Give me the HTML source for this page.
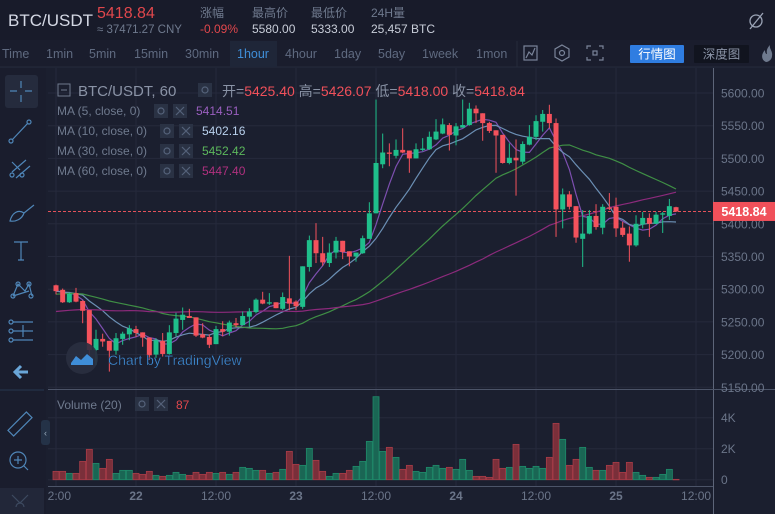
<!DOCTYPE html>
<html><head><meta charset="utf-8">
<style>
html,body{margin:0;padding:0;background:#1b1f2f;width:775px;height:514px;overflow:hidden}
svg{display:block;font-family:"Liberation Sans","Noto Sans CJK SC",sans-serif}
</style></head>
<body>
<svg id="chart" width="775" height="514" viewBox="0 0 775 514" xmlns="http://www.w3.org/2000/svg">
<defs>
<clipPath id="pclip"><rect x="48" y="68" width="665" height="321"/></clipPath>
<clipPath id="vclip"><rect x="48" y="390" width="665" height="96"/></clipPath>
<clipPath id="tclip"><rect x="48" y="486" width="727" height="28"/></clipPath>
</defs>
<rect x="0" y="0" width="775" height="514" fill="#1b1f2f"/>
<!-- header -->
<g>
<rect x="0" y="0" width="775" height="40" fill="#181b2a"/>
<text x="8" y="26" font-size="17" fill="#d4d8e4">BTC/USDT</text>
<text x="97" y="18" font-size="16" fill="#e0474c">5418.84</text>
<text x="97" y="33" font-size="11.5" fill="#6f7a8e">≈ 37471.27 CNY</text>
<text x="200" y="17" font-size="12" fill="#6f7a8e">涨幅</text>
<text x="200" y="33" font-size="12" fill="#e0474c">-0.09%</text>
<text x="252" y="17" font-size="12" fill="#6f7a8e">最高价</text>
<text x="252" y="33" font-size="12" fill="#c8cdd8">5580.00</text>
<text x="311" y="17" font-size="12" fill="#6f7a8e">最低价</text>
<text x="311" y="33" font-size="12" fill="#c8cdd8">5333.00</text>
<text x="371" y="17" font-size="12" fill="#6f7a8e">24H量</text>
<text x="371" y="33" font-size="12" fill="#c8cdd8">25,457 BTC</text>
<g stroke="#9aa3b5" fill="none" stroke-width="1.3">
<circle cx="756" cy="21" r="6"/><line x1="750" y1="29" x2="763" y2="13"/>
</g>
</g>
<!-- toolbar -->
<g font-size="12.5" fill="#5f6a80">
<rect x="0" y="40" width="775" height="27" fill="#1a1d2d"/>
<line x1="0" y1="67" x2="775" y2="67" stroke="#262b3c"/>
<rect x="230" y="41" width="47" height="26" fill="#1f2638"/>
<text x="2" y="58">Time</text>
<text x="46" y="58">1min</text>
<text x="89" y="58">5min</text>
<text x="134" y="58">15min</text>
<text x="185" y="58">30min</text>
<text x="237" y="58" fill="#3f8ed8">1hour</text>
<text x="285" y="58">4hour</text>
<text x="334" y="58">1day</text>
<text x="378" y="58">5day</text>
<text x="422" y="58">1week</text>
<text x="476" y="58">1mon</text>
<line x1="517" y1="41" x2="517" y2="67" stroke="#262b3c"/>
<g stroke="#7a8499" fill="none" stroke-width="1.2"><rect x="524" y="46" width="13" height="14"/><polyline points="526,58 529,52 532,55 535,48"/></g>
<g stroke="#7a8499" fill="none" stroke-width="1.2"><polygon points="562,45 569,49 569,57 562,61 555,57 555,49"/><circle cx="562" cy="53" r="2.5"/></g>
<g stroke="#7a8499" fill="none" stroke-width="1.2"><path d="M587 49v-3h4M599 46h4v3M603 57v3h-4M591 60h-4v-3"/><rect x="593" y="51" width="4" height="4"/></g>
<rect x="630" y="45" width="54" height="18" rx="1" fill="#2f7de1"/>
<text x="657" y="58.5" text-anchor="middle" font-size="12.5" fill="#ffffff">行情图</text>
<rect x="694" y="45" width="55" height="18" rx="1" fill="#11141f"/>
<text x="721.5" y="58.5" text-anchor="middle" font-size="12.5" fill="#8a93a6">深度图</text>
<path d="M766 62c-5-2-5-8-1-12c0 3 1 4 2 4c-1-4 1-7 3-9c-1 4 3 6 2 11c0 3-3 6-6 6z" fill="#6f7a8e"/>
</g>
<!-- left sidebar -->
<g stroke="#4f86b8" fill="none" stroke-width="1.2">
<rect x="0" y="68" width="46" height="446" fill="#1a1d2d" stroke="none"/>
<rect x="5" y="75" width="33" height="33" rx="3" fill="#252b3d" stroke="none"/>
<path d="M21 81v7M21 95v7M10 91h7M25 91h7"/>
<g><line x1="12" y1="140" x2="28" y2="123"/><circle cx="11" cy="141" r="2"/><circle cx="29" cy="122" r="2"/></g>
<g><path d="M12 162l8 8M12 172l14-12M16 178l14-12"/><circle cx="12" cy="175" r="2"/><circle cx="22" cy="175" r="2"/></g>
<g><path d="M10 221c2-8 8-12 14-8c-2 6-8 9-14 8zM24 213l10-8"/></g>
<g><path d="M14 242h14M21 242v18M18 260h6"/></g>
<g><path d="M13 296l5-12l7 7l4-7l3 12M13 296l16-5"/><circle cx="13" cy="296" r="2"/><circle cx="18" cy="284" r="2"/><circle cx="29" cy="284" r="2"/><circle cx="31" cy="296" r="2"/></g>
<g><path d="M13 322h20M13 331h20M13 340h20M23 325v12"/><circle cx="11" cy="322" r="2"/><circle cx="11" cy="331" r="2"/><circle cx="11" cy="340" r="2"/></g>
<path d="M28 372h-12M21 366l-6 6l6 6" stroke="#6aa6d8" stroke-width="3"/>
<line x1="0" y1="390" x2="44" y2="390" stroke="#25334a"/>
<g><rect x="7" y="420" width="26" height="8" transform="rotate(-45 20 424)"/></g>
<g><circle cx="18" cy="460" r="8"/><path d="M14 460h8M18 456v8M24 466l4 4"/></g>
<rect x="0" y="488" width="44" height="26" fill="#222739" stroke="none"/>
<path d="M12 495l8 8l8-8M16 507a4 4 0 0 1 8 0" stroke="#3d4a60"/>
</g>
<rect x="41" y="420" width="9" height="25" rx="3" fill="#243247"/>
<text x="45.5" y="436" text-anchor="middle" font-size="9" fill="#9ab">‹</text>

<g id="grid"></g>
<g id="mas" clip-path="url(#pclip)"></g>
<g id="candles" clip-path="url(#pclip)"></g>
<g id="vols" clip-path="url(#vclip)"></g>
<g id="axes"></g>

<!-- watermark -->
<g>
<circle cx="82" cy="358" r="16" fill="#2a2f40" opacity="0.9"/>
<path d="M71 363l5-7l5 4l6-6l6 5v6h-22z" fill="#3f8ed8"/>
<text x="108" y="365" font-size="14" fill="#3f8ed8" stroke="#1b1f2f" stroke-width="0.3">Chart by TradingView</text>
</g>
<!-- legend -->
<g>
<rect x="58" y="84" width="12" height="12" fill="none" stroke="#6f7a8e"/><line x1="61" y1="90" x2="67" y2="90" stroke="#6f7a8e"/>
<text x="78" y="96" font-size="15" fill="#8a93a6">BTC/USDT, 60</text>
<rect x="198" y="83" width="14" height="14" fill="#2a3244"/>
<text x="222" y="96" font-size="14" fill="#8a93a6">开=<tspan fill="#f0505a">5425.40</tspan> 高=<tspan fill="#f0505a">5426.07</tspan> 低=<tspan fill="#f0505a">5418.00</tspan> 收=<tspan fill="#f0505a">5418.84</tspan></text>
<g font-size="12" fill="#6f7a8e">
<text x="57" y="115">MA (5, close, 0)</text>
<rect x="154" y="104" width="14" height="14" fill="#2a3244"/><rect x="173" y="104" width="14" height="14" fill="#2a3244"/>
<text x="196" y="115" fill="#9a5fc0">5414.51</text>
<text x="57" y="135">MA (10, close, 0)</text>
<rect x="160" y="124" width="14" height="14" fill="#2a3244"/><rect x="179" y="124" width="14" height="14" fill="#2a3244"/>
<text x="202" y="135" fill="#b8d0ec">5402.16</text>
<text x="57" y="155">MA (30, close, 0)</text>
<rect x="160" y="144" width="14" height="14" fill="#2a3244"/><rect x="179" y="144" width="14" height="14" fill="#2a3244"/>
<text x="202" y="155" fill="#5cb85c">5452.42</text>
<text x="57" y="175">MA (60, close, 0)</text>
<rect x="160" y="164" width="14" height="14" fill="#2a3244"/><rect x="179" y="164" width="14" height="14" fill="#2a3244"/>
<text x="202" y="175" fill="#b0307f">5447.40</text>
</g>
<g stroke="#55627a" stroke-width="1.2" fill="none">
<path d="M176 107l8 8M184 107l-8 8M182 127l8 8M190 127l-8 8M182 147l8 8M190 147l-8 8M182 167l8 8M190 167l-8 8"/>
<circle cx="161" cy="111" r="3"/><circle cx="167" cy="131" r="3"/><circle cx="167" cy="151" r="3"/><circle cx="167" cy="171" r="3"/><circle cx="205" cy="90" r="3"/>
</g>
<rect x="41" y="400" width="0" height="0"/>
<text x="57" y="409" font-size="12" fill="#6f7a8e">Volume (20)</text>
<rect x="135" y="397" width="14" height="14" fill="#2a3244"/><rect x="154" y="397" width="14" height="14" fill="#2a3244"/>
<g stroke="#55627a" stroke-width="1.2" fill="none"><circle cx="142" cy="404" r="3"/><path d="M157 400l8 8M165 400l-8 8"/></g>
<text x="176" y="409" font-size="12" fill="#e0474c">87</text>
</g>

<script>
const opens  = [5306,5299,5280,5294,5282,5268,5207,5224,5221,5206,5224,5231,5239,5234,5226,5200,5221,5201,5233,5253,5259,5257,5231,5227,5216,5239,5235,5248,5245,5258,5265,5284,5278,5280,5270,5286,5281,5273,5334,5375,5355,5340,5356,5374,5358,5350,5355,5377,5416,5491,5509,5504,5513,5512,5500,5513,5514,5529,5538,5551,5535,5547,5551,5576,5569,5554,5543,5536,5493,5501,5495,5521,5533,5556,5568,5554,5422,5445,5427,5377,5385,5412,5394,5425,5426,5394,5385,5367,5399,5409,5400,5414,5412,5425.4];
const highs  = [5307,5301,5295,5302,5283,5268,5238,5232,5221,5233,5235,5245,5244,5234,5226,5225,5233,5245,5264,5272,5270,5257,5248,5231,5244,5251,5252,5256,5266,5271,5286,5296,5294,5280,5295,5351,5283,5335,5382,5401,5380,5370,5380,5374,5358,5356,5382,5433,5590,5538,5523,5529,5546,5512,5523,5531,5541,5560,5561,5554,5554,5590,5585,5581,5569,5556,5543,5536,5523,5529,5526,5551,5566,5574,5582,5561,5454,5450,5427,5421,5421,5430,5430,5447,5440,5403,5396,5413,5418,5416,5418,5418,5438,5426.07];
const lows   = [5292,5279,5279,5280,5248,5197,5184,5212,5174,5200,5215,5222,5227,5212,5192,5195,5197,5200,5228,5238,5256,5227,5225,5210,5216,5228,5229,5242,5245,5243,5263,5277,5276,5271,5268,5268,5268,5270,5327,5340,5336,5334,5347,5346,5335,5342,5354,5377,5416,5485,5488,5500,5508,5478,5500,5511,5513,5528,5537,5512,5520,5547,5550,5554,5527,5539,5478,5492,5491,5443,5491,5520,5528,5541,5546,5380,5393,5422,5371,5334,5384,5391,5384,5421,5380,5380,5342,5365,5393,5380,5400,5386,5406,5418];
const closes = [5297,5280,5293,5281,5267,5207,5224,5220,5206,5225,5232,5240,5233,5226,5199,5222,5201,5234,5255,5261,5256,5229,5226,5215,5239,5235,5249,5245,5259,5266,5284,5278,5280,5271,5288,5278,5274,5335,5375,5355,5341,5356,5374,5357,5350,5356,5378,5416,5493,5509,5507,5513,5509,5500,5514,5515,5533,5541,5552,5536,5549,5551,5576,5569,5554,5542,5535,5493,5501,5497,5522,5533,5557,5568,5554,5422,5445,5426,5379,5385,5412,5395,5426,5423,5393,5383,5367,5400,5409,5400,5414,5416,5427,5418.84];
const volumes = [538,538,408,408,1183,1957,1054,731,1312,408,602,602,408,344,538,280,215,280,473,344,280,473,344,473,408,473,344,473,796,731,602,602,408,473,667,1828,989,925,2021,1247,538,215,408,408,602,860,1183,2473,5354,1828,2086,1441,667,925,538,473,796,925,731,796,667,1312,602,215,215,151,1312,731,796,2279,860,731,860,731,1441,3634,2602,925,1312,2086,796,602,602,925,1118,473,1118,473,280,151,151,344,667,22];
// closes before the visible range (needed for moving averages)
const historyCloses = [5228,5236,5244,5231,5222,5240,5251,5246,5238,5230,5226,5242,5255,5249,5237,5233,5241,5250,5244,5232,5229,5236,5248,5252,5240,5235,5231,5245,5250,5241,
5262,5275,5284,5290,5288,5296,5301,5294,5289,5297,5302,5295,5290,5286,5293,5299,5296,5291,5285,5288,5294,5300,5297,5292,5295,5298,5294,5300,5303];
const priceTicks = [5150,5200,5250,5300,5350,5400,5450,5500,5550,5600];
const volumeTicks = [0,2000,4000];
const volumeTickLabels = ["0","2K","4K"];
const timeTickIndex = [0,12,24,36,48,60,72,84,96];
const timeTickLabels = ["12:00","22","12:00","23","12:00","24","12:00","25","12:00"];
const maPeriods = [5,10,30,60];
const lastPrice = 5418.84;

const NS = "http://www.w3.org/2000/svg";
const X0 = 56, STEP = 6.667;
function xOf(i){ return X0 + i*STEP; }
function yOf(p){ return 93 + (5600 - p)*0.654; }
function vyOf(v){ return 479.7 - v*31/2000; }
function mk(tag, attrs, parent){
  const e = document.createElementNS(NS, tag);
  for (const k in attrs) e.setAttribute(k, attrs[k]);
  parent.appendChild(e); return e;
}
const grid = document.getElementById('grid');
const axes = document.getElementById('axes');
// grid
priceTicks.forEach(p => {
  const l = mk('line', {x1:48, x2:713, y1:yOf(p), y2:yOf(p), stroke:'#262a3c', 'stroke-width':1}, grid);
  
  
});
volumeTicks.forEach(v => {
  const l = mk('line', {x1:48, x2:713, y1:vyOf(v), y2:vyOf(v), stroke:'#262a3c', 'stroke-width':1}, grid);
  
  
});
timeTickIndex.forEach(i => {
  const l = mk('line', {x1:xOf(i), x2:xOf(i), y1:68, y2:486, stroke:'#262a3c', 'stroke-width':1}, grid);
  
  
});
// moving averages
const all = historyCloses.concat(closes);
const H = historyCloses.length;
const maColors = ['#7d4fb0','#6b8fb4','#3f8f45','#8c2a7c'];
maPeriods.forEach((n, k) => {
  const pts = [];
  for (let i = 0; i < closes.length; i++) {
    let s = 0; for (let j = 0; j < n; j++) s += all[H + i - j];
    pts.push(xOf(i).toFixed(1) + ',' + yOf(s/n).toFixed(1));
  }
  const pl = mk('polyline', {points: pts.join(' '), fill:'none', stroke:maColors[k], 'stroke-width':1.2}, document.getElementById('mas'));
  
  
});
// last price line
const dl = mk('line', {x1:48, x2:713, y1:yOf(lastPrice), y2:yOf(lastPrice), stroke:'#e5525a', 'stroke-width':1, 'stroke-dasharray':'3,2'}, grid);


// candles
const cg = document.getElementById('candles');
closes.forEach((c, i) => {
  const o = opens[i], up = c >= o, col = up ? '#1fbf8b' : '#f4525c';
  const x = xOf(i);
  const w = mk('line', {x1:x, x2:x, y1:yOf(highs[i]), y2:yOf(lows[i]), stroke:col, 'stroke-width':1}, cg);
  
  
  const top = yOf(Math.max(o,c)), bot = yOf(Math.min(o,c));
  const b = mk('rect', {x:x-2.5, y:top, width:5, height:Math.max(1, bot-top), fill:col}, cg);
  
  
});
// volume
const vg = document.getElementById('vols');
volumes.forEach((v, i) => {
  const up = closes[i] >= opens[i];
  const y = vyOf(v);
  const r = mk('rect', {x:xOf(i)-3, y:y, width:6, height:Math.max(0.5, vyOf(0)-y), fill: up ? '#1a6654' : '#7a2f3a', stroke: up ? '#1f8a6a' : '#a83c48', 'stroke-width':0.8}, vg);
  
  
});
// axes lines
mk('line', {x1:713.5, x2:713.5, y1:68, y2:514, stroke:'#5d6579', 'stroke-width':1}, axes);
mk('line', {x1:48, x2:775, y1:389.5, y2:389.5, stroke:'#4c5468', 'stroke-width':1}, axes);
mk('line', {x1:48, x2:713, y1:486.5, y2:486.5, stroke:'#4c5468', 'stroke-width':1}, axes);
priceTicks.forEach(p => {
  const t = mk('text', {x:721, y:yOf(p)+4.5, 'font-size':12, fill:'#6b7589'}, axes);
  t.textContent = p.toFixed(2);
  
  
});
mk('rect', {x:0, y:0, width:0, height:0}, axes);
volumeTicks.forEach((v, k) => {
  const t = mk('text', {x:721, y:vyOf(v)+4.5, 'font-size':12, fill:'#6b7589'}, axes);
  t.textContent = volumeTickLabels[k];
  
  
});
const tg = mk('g', {'clip-path':'url(#tclip)'}, axes);
timeTickIndex.forEach((i, k) => {
  const bold = /^\d\d$/.test(timeTickLabels[k]);
  const t = mk('text', {x:xOf(i), y:500, 'font-size':12, fill:'#6b7589', 'text-anchor':'middle', 'font-weight': bold ? 'bold' : 'normal'}, tg);
  t.textContent = timeTickLabels[k];
  
  
});
// last price label
const ly = yOf(lastPrice);
const lr = mk('rect', {x:713, y:ly-9.5, width:62, height:19, fill:'#f0505a'}, axes);


const lt = mk('text', {x:744, y:ly+4.5, 'font-size':12.5, 'font-weight':'bold', fill:'#ffffff', 'text-anchor':'middle'}, axes);
lt.textContent = lastPrice.toFixed(2);


</script>
</svg>
</body></html>
